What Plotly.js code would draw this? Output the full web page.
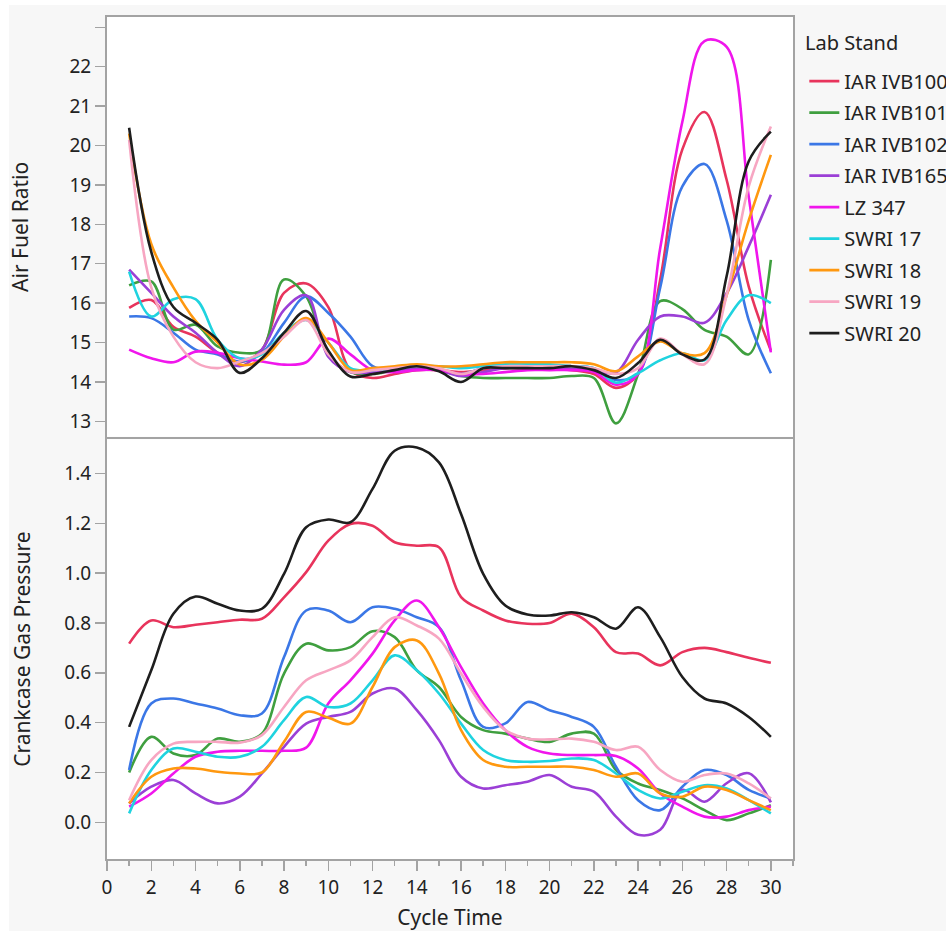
<!DOCTYPE html>
<html>
<head>
<meta charset="utf-8">
<script src="https://cdn.plot.ly/plotly-3.0.1.min.js"></script>
<style>html,body{margin:0;padding:0;background:#fff;}#chart{width:946px;height:931px;}</style>
</head>
<body>
<div id="chart"></div>
<script>
const cycleTime = [1,2,3,4,5,6,7,8,9,10,11,12,13,14,15,16,17,18,19,20,21,22,23,24,25,26,27,28,29,30];
const labStands = ["IAR IVB100","IAR IVB101","IAR IVB102","IAR IVB165","LZ 347","SWRI 17","SWRI 18","SWRI 19","SWRI 20"];

// Air Fuel Ratio
const afrIVB100 = [15.88,16.08,15.4,15.15,14.74,14.5,14.82,16.26,16.5,15.9,14.3,14.1,14.2,14.3,14.3,14.25,14.3,14.35,14.35,14.35,14.3,14.2,13.85,14.2,16.6,19.9,20.85,19.13,16.42,14.8];
const afrIVB101 = [16.45,16.55,15.33,15.45,14.9,14.74,14.82,16.6,16.17,14.7,14.25,14.2,14.3,14.35,14.3,14.15,14.1,14.1,14.1,14.1,14.15,14.1,12.95,14.2,16.05,15.85,15.32,15.15,14.7,17.1];
const afrIVB102 = [15.66,15.62,15.25,14.82,14.7,14.52,14.73,15.5,16.17,15.75,15.15,14.4,14.3,14.35,14.3,14.2,14.35,14.4,14.4,14.4,14.4,14.35,14.05,14.22,16.4,18.96,19.53,18.1,15.57,14.22];
const afrIVB165 = [16.85,16.26,15.66,15.25,14.74,14.4,14.82,15.83,16.2,14.64,14.25,14.25,14.3,14.35,14.3,14.15,14.25,14.35,14.35,14.35,14.35,14.3,14.24,15.07,15.66,15.66,15.5,16.25,17.44,18.75];
const afrLZ347  = [14.82,14.6,14.5,14.77,14.74,14.6,14.52,14.44,14.5,15.1,14.7,14.3,14.25,14.3,14.3,14.2,14.2,14.25,14.3,14.3,14.3,14.25,13.93,14.2,17.4,20.6,22.65,22.5,18.7,14.75];
const afrSWRI17 = [16.8,15.66,16.1,16.1,15.07,14.6,14.7,15.25,15.57,15.0,14.35,14.3,14.35,14.4,14.4,14.35,14.4,14.45,14.45,14.45,14.4,14.35,13.98,14.22,14.55,14.73,14.55,15.57,16.2,16.0];
const afrSWRI18 = [20.3,17.5,16.4,15.55,15.0,14.44,14.56,15.15,15.62,15.0,14.3,14.35,14.4,14.45,14.4,14.4,14.45,14.5,14.5,14.5,14.5,14.45,14.27,14.65,15.03,14.73,14.73,16.2,18.1,19.76];
const afrSWRI19 = [20.14,16.4,15.15,14.5,14.35,14.52,14.73,15.15,15.57,14.7,14.25,14.3,14.35,14.4,14.35,14.2,14.35,14.4,14.4,14.4,14.4,14.35,14.2,14.35,15.1,14.7,14.45,16.2,18.96,20.48];
const afrSWRI20 = [20.45,17.3,15.9,15.5,15.07,14.23,14.6,15.25,15.8,14.8,14.14,14.2,14.3,14.4,14.27,14.0,14.35,14.35,14.35,14.35,14.4,14.3,14.1,14.48,15.07,14.7,14.57,16.68,19.6,20.35];

// Crankcase Gas Pressure
const cgpIVB100 = [0.717,0.81,0.783,0.793,0.803,0.813,0.817,0.903,1.004,1.13,1.197,1.19,1.124,1.11,1.104,0.904,0.85,0.81,0.797,0.8,0.837,0.783,0.683,0.677,0.63,0.683,0.7,0.683,0.66,0.64];
const cgpIVB101 = [0.2,0.343,0.276,0.27,0.336,0.323,0.356,0.597,0.717,0.69,0.703,0.767,0.743,0.61,0.543,0.423,0.37,0.356,0.336,0.323,0.356,0.356,0.21,0.156,0.13,0.096,0.049,0.009,0.036,0.069];
const cgpIVB102 = [0.21,0.477,0.497,0.477,0.457,0.43,0.437,0.663,0.85,0.85,0.803,0.863,0.857,0.823,0.783,0.57,0.383,0.397,0.483,0.45,0.423,0.383,0.223,0.089,0.049,0.143,0.21,0.19,0.13,0.096];
const cgpIVB165 = [0.076,0.143,0.17,0.116,0.076,0.103,0.196,0.303,0.396,0.423,0.443,0.517,0.537,0.45,0.33,0.183,0.136,0.149,0.163,0.19,0.143,0.123,0.023,-0.05,-0.03,0.13,0.083,0.157,0.197,0.08];
const cgpLZ347  = [0.063,0.116,0.196,0.263,0.283,0.287,0.287,0.287,0.3,0.477,0.57,0.677,0.81,0.89,0.783,0.623,0.477,0.37,0.303,0.276,0.27,0.27,0.266,0.216,0.116,0.063,0.023,0.023,0.049,0.063];
const cgpSWRI17 = [0.036,0.21,0.296,0.283,0.263,0.263,0.303,0.41,0.503,0.463,0.477,0.57,0.67,0.61,0.517,0.396,0.29,0.25,0.243,0.246,0.256,0.25,0.196,0.13,0.096,0.123,0.149,0.136,0.089,0.036];
const cgpSWRI18 = [0.076,0.183,0.216,0.216,0.203,0.196,0.2,0.323,0.443,0.42,0.396,0.543,0.703,0.73,0.597,0.37,0.25,0.223,0.223,0.223,0.223,0.21,0.183,0.196,0.116,0.103,0.143,0.13,0.089,0.049];
const cgpSWRI19 = [0.089,0.25,0.316,0.323,0.323,0.32,0.35,0.463,0.57,0.61,0.65,0.743,0.823,0.79,0.737,0.597,0.463,0.37,0.336,0.333,0.336,0.323,0.29,0.303,0.21,0.163,0.19,0.196,0.156,0.096];
const cgpSWRI20 = [0.383,0.61,0.837,0.906,0.877,0.85,0.857,0.997,1.184,1.215,1.204,1.338,1.491,1.504,1.444,1.237,0.997,0.87,0.834,0.83,0.843,0.823,0.777,0.863,0.743,0.583,0.497,0.477,0.423,0.343];

const afrTickVals = [13,14,15,16,17,18,19,20,21,22,23];
const afrTickText = ["13","14","15","16","17","18","19","20","21","22",""];

const afrSeries = [afrIVB100,afrIVB101,afrIVB102,afrIVB165,afrLZ347,afrSWRI17,afrSWRI18,afrSWRI19,afrSWRI20];
const cgpSeries = [cgpIVB100,cgpIVB101,cgpIVB102,cgpIVB165,cgpLZ347,cgpSWRI17,cgpSWRI18,cgpSWRI19,cgpSWRI20];
const colors = ["#e8345c","#3f9f3f","#3b77e6","#9b3fd6","#f016ec","#1fd3df","#ff980f","#f7a6c2","#1e1e1e"];

const FONT = "Noto Sans, Open Sans, sans-serif";
const AXC = "#a3a3a3";
const TXT = "#222";
const traces = [];
labStands.forEach((name, i) => {
  traces.push({x: cycleTime, y: afrSeries[i], xaxis: 'x2', yaxis: 'y2', type: 'scatter', mode: 'lines',
    name: name, legendgroup: name, showlegend: true,
    line: {color: colors[i], width: 2.6, shape: 'spline', smoothing: 1}});
});
labStands.forEach((name, i) => {
  traces.push({x: cycleTime, y: cgpSeries[i], xaxis: 'x', yaxis: 'y', type: 'scatter', mode: 'lines',
    name: name, legendgroup: name, showlegend: false,
    line: {color: colors[i], width: 2.6, shape: 'spline', smoothing: 1}});
});

const tickFont = {family: FONT, size: 19, color: TXT};
const titleFont = {family: FONT, size: 21, color: TXT};
const layout = {
  width: 946, height: 931,
  margin: {l: 107, r: 153, t: 17, b: 72, autoexpand: false},
  paper_bgcolor: '#ffffff', plot_bgcolor: '#ffffff',
  font: {family: FONT, size: 19, color: TXT},
  showlegend: true,
  legend: {x: 1.0165, xanchor: 'left', y: 0.947, yanchor: 'top', bgcolor: 'rgba(0,0,0,0)',
    font: {family: FONT, size: 20, color: TXT}, tracegroupgap: 2.5, traceorder: 'grouped'},
  annotations: [
    {text: 'Lab Stand', xref: 'paper', yref: 'paper', x: 1.0146, y: 0.9703, xanchor: 'left', yanchor: 'middle',
     showarrow: false, font: {family: FONT, size: 20, color: TXT}}
  ],
  shapes: [
    {type: 'rect', xref: 'paper', yref: 'paper', x0: -0.1429, x1: 1.25, y0: -0.1, y1: 1.0143,
     fillcolor: '#f7f7f7', line: {width: 0}, layer: 'below'},
    {type: 'rect', xref: 'paper', yref: 'paper', x0: 0, x1: 1, y0: 0, y1: 0.4985,
     fillcolor: '#ffffff', line: {width: 0}, layer: 'below'},
    {type: 'rect', xref: 'paper', yref: 'paper', x0: 0, x1: 1, y0: 0.5015, y1: 1,
     fillcolor: '#ffffff', line: {width: 0}, layer: 'below'}
  ],
  xaxis: {domain: [0, 1], anchor: 'y', range: [0, 31], tick0: 0, dtick: 2,
    ticks: 'outside', ticklen: 10, tickwidth: 1.5, tickcolor: AXC,
    minor: {dtick: 1, ticks: 'outside', ticklen: 5, tickwidth: 1.5, tickcolor: AXC, showgrid: false},
    showline: true, linecolor: AXC, linewidth: 2, mirror: true,
    showgrid: false, zeroline: false, tickfont: tickFont,
    title: {text: 'Cycle Time', font: titleFont, standoff: 12}},
  yaxis: {domain: [0, 0.4985], anchor: 'x', range: [-0.147, 1.537], tick0: 0, dtick: 0.2, tickformat: '.1f',
    ticks: 'outside', ticklen: 10, tickwidth: 1.5, tickcolor: AXC,
    showline: true, linecolor: AXC, linewidth: 2, mirror: true,
    showgrid: false, zeroline: false, tickfont: tickFont,
    title: {text: 'Crankcase Gas Pressure', font: titleFont, standoff: 28}},
  xaxis2: {domain: [0, 1], anchor: 'y2', matches: 'x', range: [0, 31], showticklabels: false, ticks: '',
    showline: true, linecolor: AXC, linewidth: 2, mirror: true, showgrid: false, zeroline: false},
  yaxis2: {domain: [0.5015, 1], anchor: 'x2', range: [12.61, 23.26], tickmode: 'array',
    tickvals: afrTickVals, ticktext: afrTickText,
    ticks: 'outside', ticklen: 10, tickwidth: 1.5, tickcolor: AXC,
    showline: true, linecolor: AXC, linewidth: 2, mirror: true,
    showgrid: false, zeroline: false, tickfont: tickFont,
    title: {text: 'Air Fuel Ratio', font: titleFont, standoff: 35}}
};

Plotly.newPlot('chart', traces, layout, {displayModeBar: false, staticPlot: true});
</script>
</body>
</html>
